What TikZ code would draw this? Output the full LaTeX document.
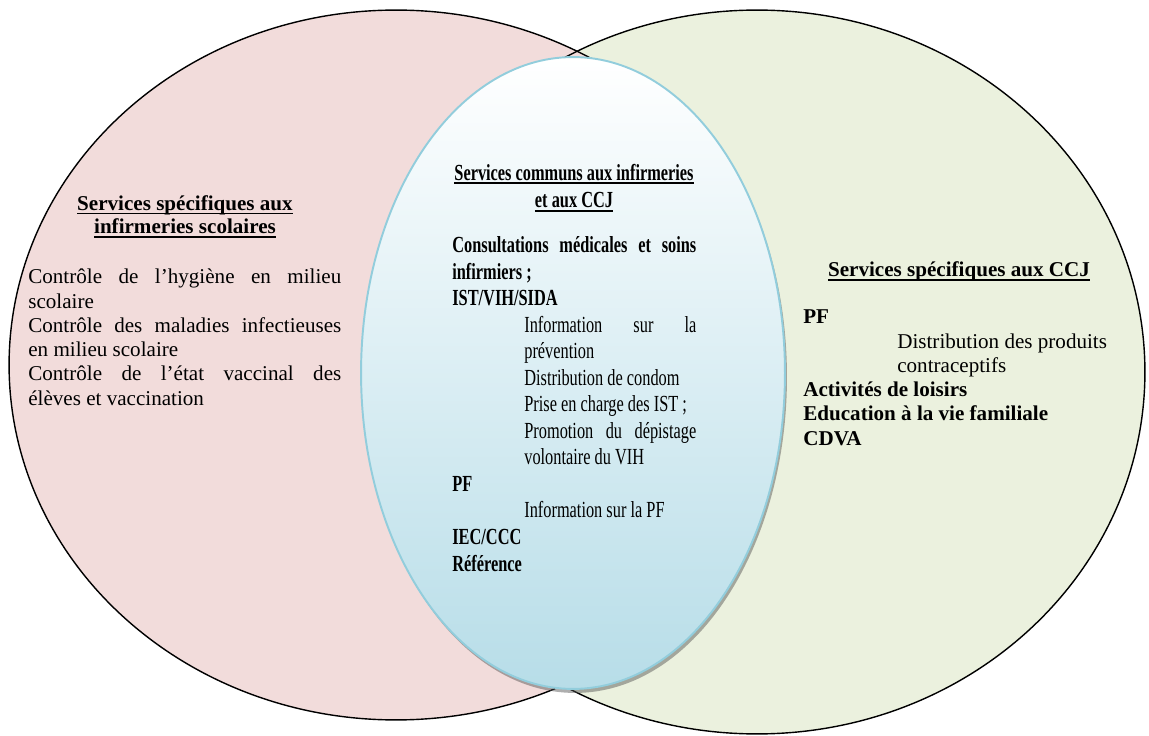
\documentclass[tikz,border=0pt]{standalone}
\usepackage{fontspec}
\setmainfont{Liberation Serif}
\newfontfamily\ellfont[FakeStretch=0.71]{Liberation Serif}
\usetikzlibrary{positioning}
\definecolor{pinkfill}{HTML}{F2DCDB}
\definecolor{greenfill}{HTML}{EBF1DE}
\definecolor{bluefill}{HTML}{B7DDE8}
\definecolor{blueline}{HTML}{92CDDC}
\newcommand{\undl}[1]{\leavevmode\setbox0\hbox{#1}\rlap{\rule[-2pt]{\wd0}{0.75pt}}\box0}
\newcommand{\jline}[2]{\makebox[#1][s]{#2}}

\begin{document}
\begin{tikzpicture}[
  x=0.02cm, y=-0.02cm,
  sidetext/.style={align=left, inner sep=0pt, anchor=base west, font=\fontsize{12}{13.8}\selectfont},
  sidehead/.style={align=center, inner sep=0pt, anchor=base, font=\bfseries\fontsize{12}{13.4}\selectfont},
  midtext/.style={align=left, inner sep=0pt, anchor=base west, font=\ellfont\fontsize{13.1}{15.1}\selectfont},
  midhead/.style={align=center, inner sep=0pt, anchor=base, font=\ellfont\bfseries\fontsize{13.1}{15.9}\selectfont}
]
\useasboundingbox (0,0) rectangle (1149,736);
% the two sets
\fill[greenfill] (757,372) ellipse [x radius=7.76cm, y radius=7.24cm];
\fill[pinkfill] (396,365) ellipse [x radius=7.74cm, y radius=7.1cm];
\draw[line width=0.8pt] (757,372) ellipse [x radius=7.76cm, y radius=7.24cm];
\draw[line width=0.8pt] (396,365) ellipse [x radius=7.74cm, y radius=7.1cm];
% common part
\fill[black!70, opacity=0.45] (575,377) ellipse [x radius=4.24cm, y radius=6.32cm];
\shade[top color=white, bottom color=bluefill] (573,373) ellipse [x radius=4.24cm, y radius=6.32cm];
\draw[blueline, line width=1.1pt] (573,373) ellipse [x radius=4.24cm, y radius=6.32cm];

% left set (base = last line)
\node[sidehead] (infhead) at (185,234) {\undl{Services spécifiques aux}\\ \undl{infirmeries scolaires}};
\node[sidetext] (infbody) at (28,405) {\jline{6.26cm}{Contrôle de l’hygiène en milieu}\\
  scolaire\\
  \jline{6.26cm}{Contrôle des maladies infectieuses}\\
  en milieu scolaire\\
  \jline{6.26cm}{Contrôle de l’état vaccinal des}\\
  élèves et vaccination};

% middle set
\node[midhead] (comhead) at (574,208) {\undl{Services communs aux infirmeries}\\ \undl{et aux CCJ}};
\node[midtext] (combody) at (452,571) {{\bfseries\jline{4.88cm}{Consultations médicales et soins}}\\
  {\bfseries infirmiers ;}\\
  {\bfseries IST/VIH/SIDA}\\
  \hspace*{1.44cm}\jline{3.44cm}{Information sur la}\\
  \hspace*{1.44cm}prévention\\
  \hspace*{1.44cm}Distribution de condom\\
  \hspace*{1.44cm}Prise en charge des IST ;\\
  \hspace*{1.44cm}\jline{3.44cm}{Promotion du dépistage}\\
  \hspace*{1.44cm}volontaire du VIH\\
  {\bfseries PF}\\
  \hspace*{1.44cm}Information sur la PF\\
  {\bfseries IEC/CCC}\\
  {\bfseries Référence}};

% right set
\node[sidehead] (ccjhead) at (959,277) {\undl{Services spécifiques aux CCJ}};
\node[sidetext] (ccjbody) at (803,445) {{\bfseries PF}\\
  \hspace*{1.88cm}Distribution des produits\\
  \hspace*{1.88cm}contraceptifs\\
  {\bfseries Activités de loisirs}\\
  {\bfseries Education à la vie familiale}\\
  {\bfseries CDVA}};
\end{tikzpicture}
\end{document}
